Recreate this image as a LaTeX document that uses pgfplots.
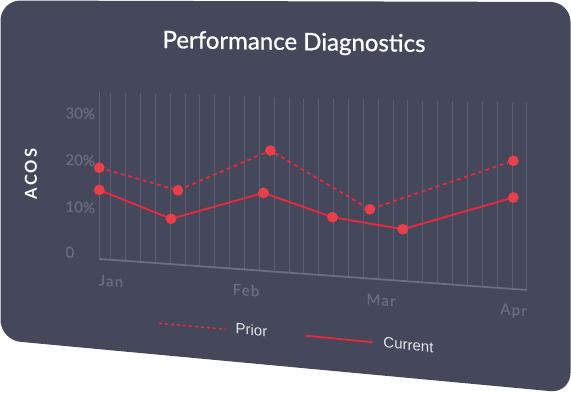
\documentclass[border=0pt]{standalone}
\usepackage{fontspec}
\setmainfont{Lato}
\newfontfamily\titlefont[FakeBold=0.9]{Lato}
\newfontfamily\tickfont[FakeBold=0.5]{Lato}
\newfontfamily\latosp[LetterSpace=8,FakeBold=0.5]{Lato}
\newfontfamily\acosfont[LetterSpace=12]{Lato}
\newfontfamily\legfont{Liberation Sans}
\usepackage{pgfplots}
\usepackage{pgfplotstable}
\pgfplotsset{compat=1.18}

\definecolor{card}{HTML}{45475B}
\definecolor{gridc}{HTML}{5A5D72}
\definecolor{basec}{HTML}{6C6F84}
\definecolor{tickc}{HTML}{6A6D82}
\definecolor{dotred}{HTML}{E8404A}
\definecolor{linered}{HTML}{E62A40}
\definecolor{legtext}{HTML}{E4E4EA}

% x: months after 1 Jan (Jan = 0, Apr = 3); y: ACOS in percent
\pgfplotstableread{
x y
0    18.2
0.57 14.2
1.24 23.4
1.96 12.4
3.0  23.3
}\prior
\pgfplotstableread{
x y
0    13.4
0.52 8.1
1.19 14.6
1.69 10.4
2.2  8.8
3.0  16.2
}\current

\begin{document}
\begin{tikzpicture}
\begin{scope}[x=1pt,y=1pt]
\useasboundingbox (0,0) rectangle (571,393);
\fill[card, rounded corners=20pt] (0.5,392.5) -- (570.5,391) -- (570.5,0) -- (0.5,53) -- cycle;
\end{scope}
\begin{axis}[at={(0,0)}, anchor=south west, scale only axis,
  width=571pt, height=393pt,
  xmin=-0.71957, xmax=3.41812, ymin=0, ymax=393,
  hide axis, clip=false,
  % perspective of the tilted card: vertical lines stay vertical
  y filter/.expression={141-9.7428*x+4.63*y+0.17954*x*y}]
\pgfplotsinvokeforeach{0,0.0826,0.1903,0.2980,0.4056,0.5133,0.6210,0.7287,0.8364,0.9440,1.0517,1.1594,1.2671,1.3748,1.4824,1.5901,1.6978,1.8055,1.9132,2.0208,2.1285,2.2362,2.3439,2.4516,2.5592,2.6669,2.7746,2.8823,2.9900,3.097}{
  \addplot[gridc, line width=0.8pt] coordinates {(#1,-1.5) (#1,34.5)};
}
\addplot[basec, line width=1.8pt] coordinates {(0,-1.5) (3.097,-1.5)};
\addplot[linered, line width=1.8pt, dash pattern=on 4pt off 3.5pt,
  mark=*, mark size=4.4pt, mark options={solid, fill=dotred, draw=dotred}] table {\prior};
\addplot[linered, line width=1.9pt,
  mark=*, mark size=4.4pt, mark options={solid, fill=dotred, draw=dotred}] table {\current};
\end{axis}
\begin{scope}[x=1pt,y=1pt]
\node[white, font=\titlefont\fontsize{24}{28}\selectfont, anchor=base, yslant=-0.015] at (294,343) {Performance Diagnostics};
\node[white, font=\acosfont\bfseries\fontsize{16.5}{18}\selectfont, rotate=90] at (31,219) {ACOS};
\node[tickc, anchor=west, font=\tickfont\fontsize{15}{18}\selectfont, yslant=-0.032] at (62,280.3) {30\%};
\node[tickc, anchor=west, font=\tickfont\fontsize{15}{18}\selectfont, yslant=-0.045] at (62,233.7) {20\%};
\node[tickc, anchor=west, font=\tickfont\fontsize{15}{18}\selectfont, yslant=-0.058] at (62,187) {10\%};
\node[tickc, anchor=west, font=\tickfont\fontsize{15}{18}\selectfont, yslant=-0.07] at (62,141.3) {0};
\node[tickc, font=\latosp\fontsize{15}{18}\selectfont, yslant=-0.078] at (111,112) {Jan};
\node[tickc, font=\latosp\fontsize{15}{18}\selectfont, yslant=-0.078] at (246,103) {Feb};
\node[tickc, font=\latosp\fontsize{15}{18}\selectfont, yslant=-0.078] at (381,93) {Mar};
\node[tickc, font=\latosp\fontsize{15}{18}\selectfont, yslant=-0.078] at (513.5,82) {Apr};
\draw[linered, line width=1.5pt, dash pattern=on 3pt off 3pt] (159,69.7) -- (226,63.7);
\node[legtext, font=\legfont\fontsize{15}{18}\selectfont, yslant=-0.09] at (251.5,63) {Prior};
\draw[linered, line width=1.8pt] (305.7,57.3) -- (372.7,50.7);
\node[legtext, font=\legfont\fontsize{15}{18}\selectfont, yslant=-0.09] at (408.5,48) {Current};
\end{scope}
\end{tikzpicture}
\end{document}
